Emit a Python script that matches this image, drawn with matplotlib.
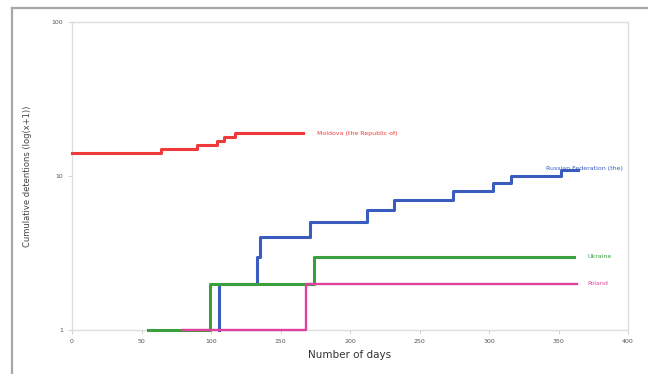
import matplotlib.pyplot as plt
from matplotlib.lines import Line2D

# step series: day at which the cumulative value changes, and the new value
moldova_days = [0, 64, 90, 104, 109, 117, 166]
moldova_vals = [14, 15, 16, 17, 18, 19, 19]

russia_days = [106, 133, 135, 171, 212, 232, 274, 303, 316, 352, 364]
russia_vals = [2, 3, 4, 5, 6, 7, 8, 9, 10, 11, 11]

ukraine_days = [55, 99, 174, 361]
ukraine_vals = [1, 2, 3, 3]

poland_days = [80, 168, 363]
poland_vals = [1, 2, 2]

labels = ['Moldova (the Republic of)', 'Russian Federation (the)', 'Ukraine', 'Poland']
label_pos = [(176, 19), (341, 11.2), (371, 3), (371, 2)]
colors = ['#f03a3a', '#3a5cbf', '#3aa03e', '#e040a0']

fig = plt.figure(figsize=(6.48, 3.74), dpi=100)
ax = fig.add_axes([72 / 648, 1 - 330 / 374, 556 / 648, 308 / 374])

# Russia starts from the baseline, hidden below the others
ax.step([106] + russia_days, [1] + russia_vals, where='post', color=colors[1], lw=2.2, clip_on=False, zorder=3)
ax.step(moldova_days, moldova_vals, where='post', color=colors[0], lw=2.2, clip_on=False, zorder=3)
ax.step(ukraine_days, ukraine_vals, where='post', color=colors[2], lw=2.2, clip_on=False, zorder=3)
ax.step(poland_days, poland_vals, where='post', color=colors[3], lw=1.7, clip_on=False, zorder=3)

for lab, (x, y), c in zip(labels, label_pos, colors):
    ax.text(x, y, lab, color=c, fontsize=4.5, va='center', ha='left', clip_on=False)

ax.set_yscale('log')
ax.set_ylim(1, 100)
ax.set_xlim(0, 400)
ax.set_xticks(range(0, 401, 50))
ax.set_yticks([1, 10, 100])
ax.set_yticklabels(['1', '10', '100'])
ax.minorticks_off()
ax.tick_params(labelsize=4.5, colors='#555555', length=3, width=0.6, color='#cccccc')

for s in ax.spines.values():
    s.set_color('#dddddd')
    s.set_linewidth(1.0)

ax.set_xlabel('Number of days', fontsize=7.5, color='#333333')
ax.xaxis.set_label_coords(0.5, -0.065)
ax.set_ylabel('Cumulative detentions (log(x+1))', fontsize=6, color='#444444', labelpad=14)

# outer grey frame of the original screenshot
fig.add_artist(Line2D([12 / 648, 1], [1 - 8 / 374] * 2, color='#a8a8a8', lw=1.6))
fig.add_artist(Line2D([12 / 648] * 2, [0, 1 - 8 / 374], color='#a8a8a8', lw=1.6))

fig.savefig('out.png', dpi=100)
